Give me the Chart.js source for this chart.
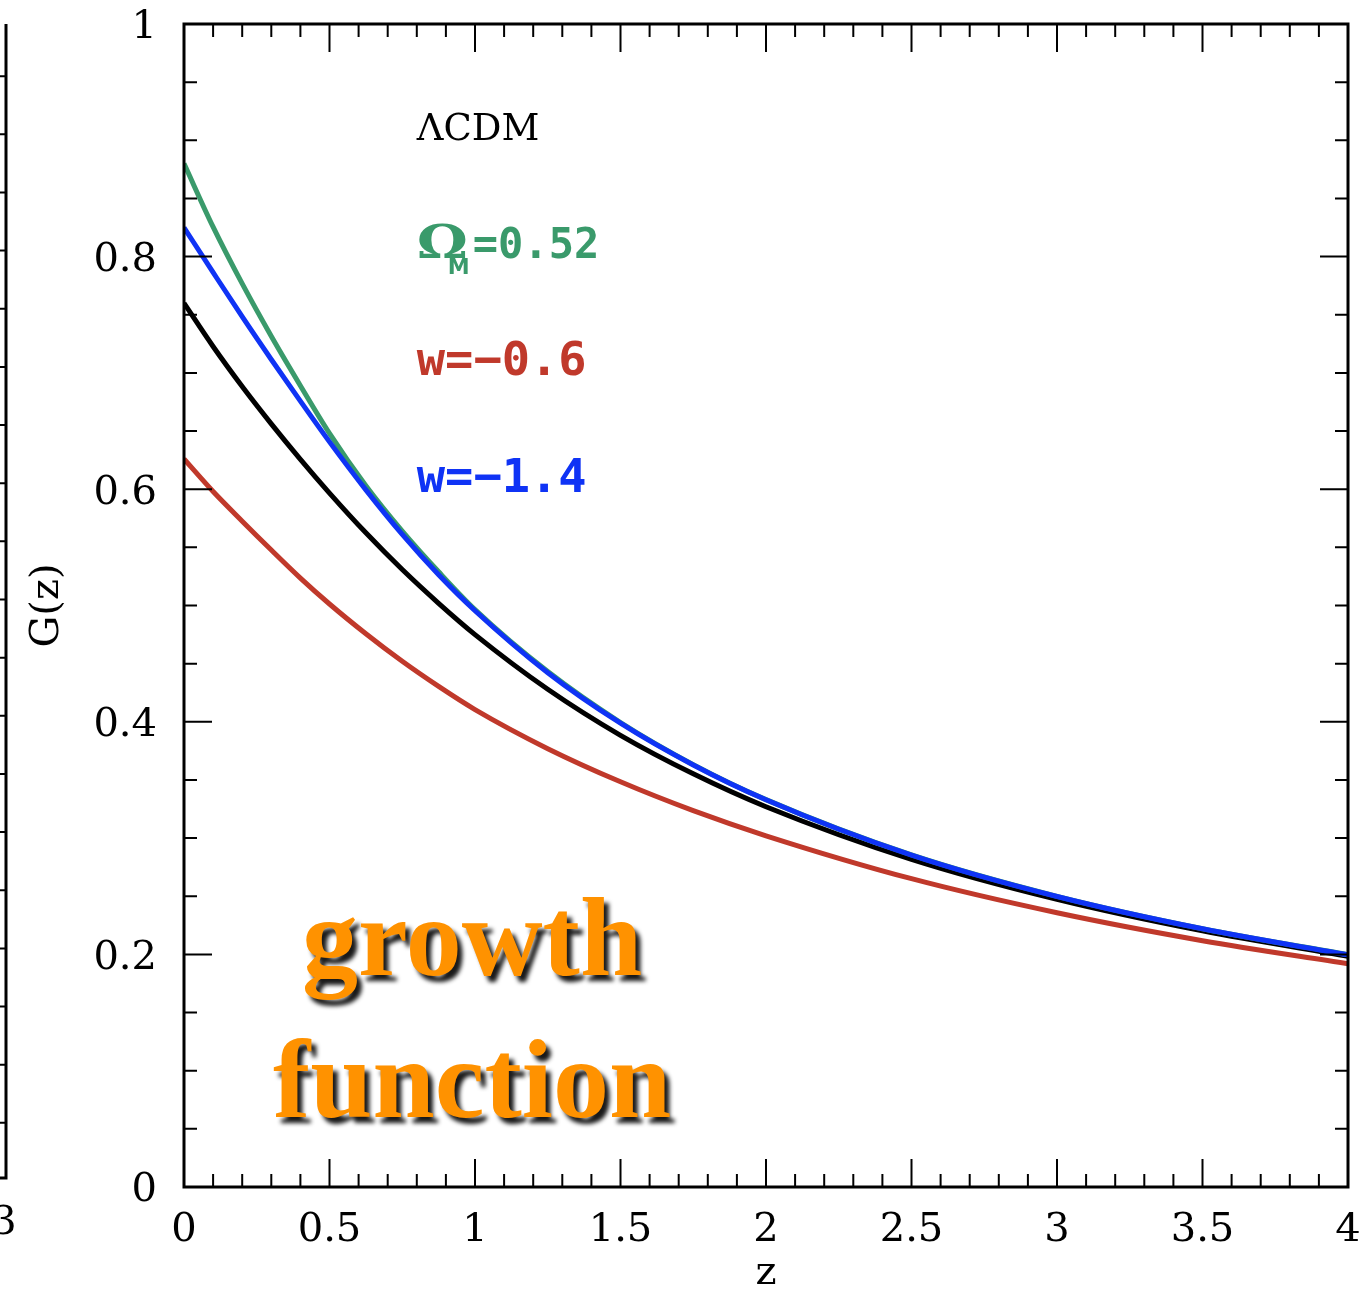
<!DOCTYPE html>
<html>
<head>
<meta charset="utf-8">
<script src="https://cdn.jsdelivr.net/npm/chart.js@4.4.1/dist/chart.umd.min.js"></script>
<style>
  html, body { margin: 0; padding: 0; background: #fff; }
  #wrap { width: 1372px; height: 1291px; }
</style>
</head>
<body>
<div id="wrap"><canvas id="growthChart" width="1372" height="1291"></canvas></div>
<script>
// redshift samples
const zVals = [0, 0.1, 0.2, 0.3, 0.4, 0.5, 0.625, 0.75, 0.875, 1, 1.25, 1.5, 1.75, 2, 2.5, 3, 3.5, 4];

// G(z) for each model
const gLCDM    = [0.760, 0.7227, 0.6883, 0.6562, 0.6257, 0.5967, 0.5625, 0.5309, 0.5019, 0.4750, 0.4280, 0.3884, 0.3553, 0.3270, 0.2817, 0.2473, 0.2202, 0.1984];
const gOmega52 = [0.880, 0.8255, 0.7767, 0.7315, 0.6890, 0.6480, 0.6030, 0.5640, 0.5290, 0.4965, 0.4432, 0.3994, 0.3632, 0.3331, 0.2855, 0.2499, 0.2221, 0.1997];
const gWm06    = [0.626, 0.5980, 0.5725, 0.5477, 0.5236, 0.5013, 0.4757, 0.4520, 0.4304, 0.4105, 0.3769, 0.3484, 0.3236, 0.3020, 0.2651, 0.2358, 0.2118, 0.1920];
const gWm14    = [0.825, 0.7864, 0.7483, 0.7115, 0.6757, 0.6407, 0.5994, 0.5611, 0.5264, 0.4955, 0.4422, 0.3988, 0.3629, 0.3330, 0.2854, 0.2498, 0.2220, 0.1996];

const xTicks = [0, 0.5, 1, 1.5, 2, 2.5, 3, 3.5, 4];
const yTicks = [0, 0.2, 0.4, 0.6, 0.8, 1];

const SERIF = "'DejaVu Serif', serif";

function pts(ys) {
  return zVals.map((z, i) => ({ x: z, y: ys[i] }));
}

/* =========================
   FRAME, INWARD TICKS, TEXT
==========================*/
const decorations = {
  id: "decorations",
  afterDraw(chart) {
    const { ctx, chartArea: a } = chart;
    const xs = chart.scales.x;
    const ys = chart.scales.y;
    ctx.save();

    // minor / major ticks on all four sides
    ctx.strokeStyle = "#000";
    ctx.lineWidth = 2;
    ctx.beginPath();
    for (let i = 0; i <= 40; i++) {
      const px = xs.getPixelForValue(i / 10);
      const len = i % 5 === 0 ? 28 : 13;
      ctx.moveTo(px, a.bottom); ctx.lineTo(px, a.bottom - len);
      ctx.moveTo(px, a.top); ctx.lineTo(px, a.top + len);
    }
    for (let i = 0; i <= 20; i++) {
      const py = ys.getPixelForValue(i / 20);
      const len = i % 4 === 0 ? 28 : 13;
      ctx.moveTo(a.left, py); ctx.lineTo(a.left + len, py);
      ctx.moveTo(a.right, py); ctx.lineTo(a.right - len, py);
    }
    ctx.stroke();

    // box
    ctx.lineWidth = 3;
    ctx.strokeRect(a.left, a.top, a.right - a.left, a.bottom - a.top);

    // edge of the neighbouring panel (cropped on the left)
    ctx.lineWidth = 3;
    ctx.beginPath();
    ctx.moveTo(6, a.top); ctx.lineTo(6, a.bottom - 9); ctx.lineTo(0, a.bottom - 9);
    ctx.stroke();
    ctx.lineWidth = 2;
    ctx.beginPath();
    for (let i = 1; i < 20; i++) {
      const py = ys.getPixelForValue(i / 20) - 6;
      ctx.moveTo(0, py); ctx.lineTo(6, py);
    }
    ctx.stroke();
    ctx.fillStyle = "#000";
    ctx.font = "40px " + SERIF;
    ctx.textAlign = "center";
    ctx.textBaseline = "alphabetic";
    ctx.fillText("3", 4, 1234);

    // axis titles
    ctx.font = "40px " + SERIF;
    ctx.fillText("z", xs.getPixelForValue(2), 1284);
    ctx.save();
    ctx.translate(58, ys.getPixelForValue(0.5));
    ctx.rotate(-Math.PI / 2);
    ctx.fillText("G(z)", 0, 0);
    ctx.restore();

    // model labels
    const lx = xs.getPixelForValue(0.8);
    ctx.textAlign = "left";
    ctx.fillStyle = "#000";
    ctx.font = "37px " + SERIF;
    ctx.fillText("\u039BCDM", lx, ys.getPixelForValue(0.9));

    ctx.fillStyle = "#3a9a6b";
    const by = ys.getPixelForValue(0.799);
    ctx.save();
    ctx.translate(lx, by);
    ctx.scale(1.25, 1);
    ctx.font = "bold 46px " + SERIF;
    ctx.fillText("\u03A9", 0, 0);
    ctx.restore();
    ctx.font = "bold 22px 'DejaVu Sans', sans-serif";
    ctx.fillText("M", lx + 31, by + 16);
    ctx.font = "bold 42px 'DejaVu Sans Mono', monospace";
    ctx.fillText("=0.52", lx + 56, by);

    ctx.font = "bold 47px 'DejaVu Sans Mono', monospace";
    ctx.fillStyle = "#c0392b";
    ctx.fillText("w=\u22120.6", lx, ys.getPixelForValue(0.698));
    ctx.fillStyle = "#0f33f5";
    ctx.fillText("w=\u22121.4", lx, ys.getPixelForValue(0.598));

    // big caption
    ctx.font = "bold 112px 'Liberation Serif', serif";
    ctx.textAlign = "center";
    ctx.fillStyle = "#ff9200";
    ctx.shadowColor = "rgba(0,0,0,0.9)";
    ctx.shadowOffsetX = 5;
    ctx.shadowOffsetY = 6;
    ctx.shadowBlur = 4;
    const cx = xs.getPixelForValue(0.99);
    ctx.fillText("growth", cx, 975);
    ctx.fillText("function", cx, 1117);

    ctx.restore();
  },
};

/* =========================
   CHART
==========================*/
const ctx = document.getElementById("growthChart");

new Chart(ctx, {
  type: "line",
  data: {
    datasets: [
      { label: "w=-1.4", data: pts(gWm14), borderColor: "#0f33f5" },
      { label: "Omega_M=0.52", data: pts(gOmega52), borderColor: "#3a9a6b" },
      { label: "LCDM", data: pts(gLCDM), borderColor: "#000000" },
      { label: "w=-0.6", data: pts(gWm06), borderColor: "#c0392b" },
    ].map((d) => ({
      ...d,
      borderWidth: 5,
      pointRadius: 0,
      fill: false,
      cubicInterpolationMode: "monotone",
    })),
  },
  options: {
    responsive: false,
    animation: false,
    devicePixelRatio: 1,
    layout: { padding: { top: 24, right: 24, left: 0, bottom: 0 } },
    plugins: {
      legend: { display: false },
      tooltip: { enabled: false },
    },
    scales: {
      x: {
        type: "linear",
        min: 0,
        max: 4,
        border: { display: false },
        grid: { display: false, drawTicks: false, tickLength: 0 },
        afterBuildTicks: (s) => { s.ticks = xTicks.map((v) => ({ value: v })); },
        afterFit: (s) => {
          s.height = 104;
          s.paddingLeft = 0;
          s.paddingRight = 0;
        },
        ticks: {
          padding: 20,
          maxRotation: 0,
          color: "#000",
          font: { family: SERIF, size: 40 },
          callback: (v) => String(v),
        },
      },
      y: {
        type: "linear",
        min: 0,
        max: 1,
        border: { display: false },
        grid: { display: false, drawTicks: false, tickLength: 0 },
        afterBuildTicks: (s) => { s.ticks = yTicks.map((v) => ({ value: v })); },
        afterFit: (s) => {
          s.width = 184;
          s.paddingTop = 0;
          s.paddingBottom = 0;
        },
        ticks: {
          padding: 27,
          labelOffset: 4,
          color: "#000",
          font: { family: SERIF, size: 40 },
          callback: (v) => String(v),
        },
      },
    },
  },
  plugins: [decorations],
});
</script>
</body>
</html>
